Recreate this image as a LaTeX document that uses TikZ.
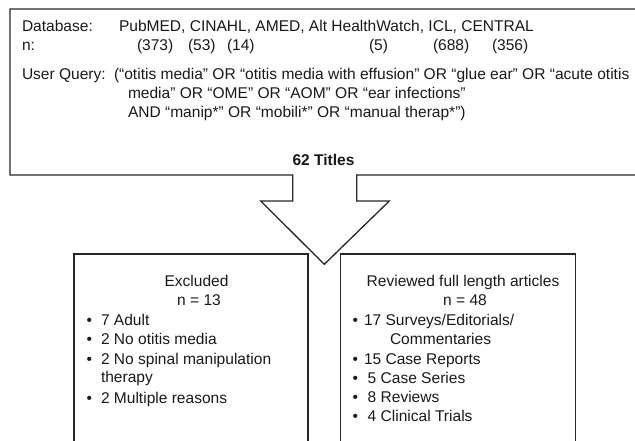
\documentclass[tikz,border=0pt]{standalone}
\usepackage{fontspec}
\setmainfont{Liberation Sans}
\begin{document}
\begin{tikzpicture}[x=1bp,y=-1bp,
  every node/.style={inner sep=0pt,outer sep=0pt,font=\fontsize{15.6}{19}\selectfont,text=black!90},
  tl/.style={anchor=base west},
  tc/.style={anchor=base},
  frame/.style={line width=1.3bp,draw=black!85,line join=miter}]
\useasboundingbox (0,0) rectangle (635,441);
\clip (0,0) rectangle (635,441);
% top box + arrow
\draw[frame] (292.7,175) -- (10,175) -- (10,9) -- (645,9) -- (645,175) -- (356.7,175)
  -- (356.7,201) -- (389.3,201) -- (324.3,264.3) -- (260.7,201) -- (292.7,201) -- cycle;
% lower boxes
\draw[frame] (74,450) -- (74,254) -- (308,254) -- (308,450);
\draw[frame] (340.7,450) -- (340.7,254) -- (575.7,254) -- (575.7,450);
% top text
\node[tl] (db) at (22,31.7) {Database:};
\node[tl] (dbl) at (119,31.7) {PubMED, CINAHL, AMED, Alt HealthWatch, ICL, CENTRAL};
\node[tl] (n) at (22,51) {n:};
\node[tl] (n1) at (137,51) {(373)};
\node[tl] (n2) at (188,51) {(53)};
\node[tl] (n3) at (227,51) {(14)};
\node[tl] (n4) at (369,51) {(5)};
\node[tl] (n5) at (433,51) {(688)};
\node[tl] (n6) at (492,51) {(356)};
\node[tl] (uq) at (22,80) {User Query:};
\node[tl] (q1) at (114,80) {(“otitis media” OR “otitis media with effusion” OR “glue ear” OR “acute otitis};
\node[tl] (q2) at (128,99) {media” OR “OME” OR “AOM” OR “ear infections”};
\node[tl] (q3) at (128,118) {AND “manip*” OR “mobili*” OR “manual therap*”)};
\node[tc,font=\fontsize{15.6}{19}\selectfont\bfseries] (titles) at (323.5,166) {62 Titles};
% left box text
\node[tc] (ex) at (196.5,286.7) {Excluded};
\node[tc] (exn) at (199,305.7) {n = 13};
\foreach \y/\t [count=\i] in {325/7 Adult,344/2 No otitis media,364/2 No spinal manipulation,403/2 Multiple reasons}{
  \node[tl] (eb\i) at (86.5,\y) {•};
  \node[tl] (et\i) at (101,\y) {\t};
}
\node[tl] (et5) at (101,382.7) {therapy};
% right box text
\node[tc] (rv) at (463,286.7) {Reviewed full length articles};
\node[tc] (rvn) at (465,305.7) {n = 48};
\foreach \y/\t/\x [count=\i] in {325/17 Surveys\slash Editorials\slash/364,364/15 Case Reports/364,383/5 Case Series/367.7,402/8 Reviews/367.7,421/4 Clinical Trials/367.7}{
  \node[tl] (rb\i) at (352.5,\y) {•};
  \node[tl] (rt\i) at (\x,\y) {\t};
}
\node[tl] (rt6) at (390,344) {Commentaries};
\end{tikzpicture}
\end{document}
